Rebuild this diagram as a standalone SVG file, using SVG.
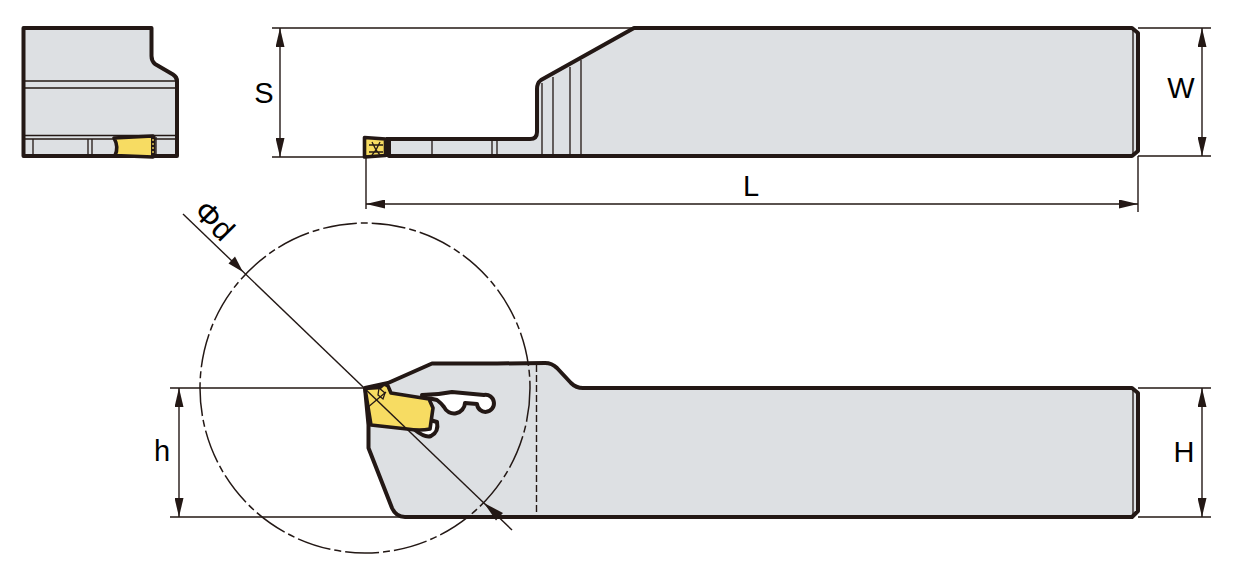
<svg xmlns="http://www.w3.org/2000/svg" width="1235" height="566" viewBox="0 0 1235 566">
<style>
.body{fill:#dde0e3;stroke:#231815;stroke-width:4;stroke-linejoin:round}
.ins{fill:#f7dc62;stroke:#231815;stroke-width:3.6;stroke-linejoin:round}
.thin{fill:none;stroke:#231815;stroke-width:1.3}
.dim{fill:none;stroke:#231815;stroke-width:1.400}
.dash{fill:none;stroke:#231815;stroke-width:1.400;stroke-dasharray:7 3}
.chain{fill:none;stroke:#231815;stroke-width:1.500;stroke-dasharray:34 4 7 4}
.slot{fill:#fff;stroke:#231815;stroke-width:4;stroke-linejoin:round}
.head{fill:#231815}
text{font-family:"Liberation Sans",Arial,sans-serif;font-size:29px;fill:#000;text-anchor:middle}
</style>
<defs>
<marker id="arr" viewBox="0 0 19 9" refX="19" refY="4.500" markerWidth="19" markerHeight="9" markerUnits="userSpaceOnUse" orient="auto-start-reverse"><path class="head" d="M0 0L19 4.500L0 9Z"/></marker>
</defs>
<g id="end-view">
<path class="body" d="M23.500 28H151.500V56Q151.500 61 155 64L173 74.500Q177 77 177 81V156H23.500Z"/>
<path class="thin" d="M25 81H176M25 88H176M25 135.500H176M25 139H176M33 139V155M88 139V155M92 139V155M156 137V155"/>
<path class="ins" d="M114 138L153 136V157L115 155.500Q119 147 114 138Z"/>
<path d="M151 135H155.500V158H151Z" fill="#231815"/>
<path d="M153 139V155" stroke="#f7dc62" stroke-width="1.300" stroke-dasharray="2 2"/>
</g>
<g id="side-view">
<path class="body" d="M389 139H530Q537 139 537 132V89Q537 83 541 80L634 28H1132L1138 33V151L1132 156H389Z"/>
<path class="thin" d="M432 140V155M492 140V155M497 140V155M542 83V155M553 77V155M570 67V155M581 60V155M1133 29V155"/>
<path d="M386 137H391V157H386Z" fill="#231815"/>
<path class="ins" d="M364.500 137.500L385.500 139V155.500L364.500 157Z"/>
<path d="M369 145H383M369 152H383M372 142L376 150L372 155M380 142L376 150L380 155" fill="none" stroke="#231815" stroke-width="1.300"/>
</g>
<g id="front-view">
<path class="body" d="M388 383L432 363.500H497L545 363Q552 363 557 368L571 383Q576 388 583 388H1132L1138 393V511L1132 517H405Q396 517 392 508L368.500 448V425L365 388Z"/>
<path class="dash" d="M536.500 365V516"/>
<path class="thin" d="M1133 389V516"/>
<path class="slot" d="M422 395Q437 395 452 392L484 395A8.500 8.500 0 1 1 477 404L465 403A11 11 0 0 1 444 407Q441 403 437 400L428 398Z"/>
<path class="slot" d="M415 430Q425 438 431 436Q439 432 437 422L430 420Z"/>
<path class="ins" d="M365 388.500L380 387.500L384 384L388 386L391 393L429 399L433 408L430 429Q420 431 407 429L371 425Z"/>
<path d="M379 388L385 393L383 399L378 395Z" fill="#f7dc62" stroke="#231815" stroke-width="1.300"/>
<path class="thin" d="M367 408L386 392"/>
</g>
<g id="connectors">
<path class="dim" d="M272 28H634M272 157H365M1138 28H1211M1138 156H1211M366 157V209M1138 156V212M1138 388H1211M1138 517H1211M170 388H365M170 517H400"/>
<path class="dim" marker-start="url(#arr)" marker-end="url(#arr)" d="M280 28V157"/>
<path class="dim" marker-start="url(#arr)" marker-end="url(#arr)" d="M1202 28V156"/>
<path class="dim" marker-start="url(#arr)" marker-end="url(#arr)" d="M366 204H1138"/>
<path class="dim" marker-start="url(#arr)" marker-end="url(#arr)" d="M179 388V517"/>
<path class="dim" marker-start="url(#arr)" marker-end="url(#arr)" d="M1202 388V517"/>
<path class="dim" d="M183 214L512 530"/>
<path class="head" d="M243 272L228.500 263.500L235 256.500Z"/>
<path class="head" d="M484 503L503 513L496 520.500Z"/>
<circle class="chain" cx="365" cy="388" r="165"/>
</g>
<g id="labels">
<text x="264" y="103">S</text>
<text x="1181" y="98">W</text>
<text x="751" y="196">L</text>
<text x="162" y="461">h</text>
<text x="1184" y="462">H</text>
<text transform="translate(214 221) rotate(45)" x="0" y="10" style="font-size:31px">Φd</text>
</g>
</svg>
